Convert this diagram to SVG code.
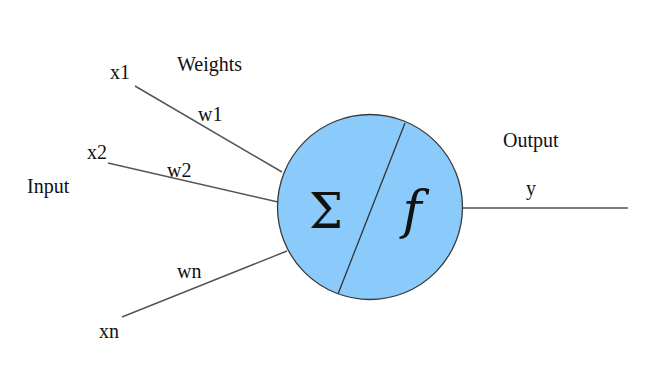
<svg xmlns="http://www.w3.org/2000/svg" width="646" height="392" viewBox="0 0 646 392">
<style>
.t{font-family:"Liberation Serif","Times New Roman",serif;font-size:20px;fill:#111}
.c{stroke:#555;stroke-width:1.5;fill:none}
.sig{font-family:"DejaVu Serif",serif;font-size:48px;fill:#111}
.fn{font-family:"DejaVu Serif",serif;font-size:52px;font-style:italic;fill:#111}
</style>
<rect width="646" height="392" fill="#fff"/>
<g id="connectors">
<line class="c" x1="135" y1="86" x2="282" y2="172"/>
<line class="c" x1="108" y1="163" x2="278" y2="202"/>
<line class="c" x1="122" y1="317" x2="287" y2="251"/>
<line class="c" x1="462" y1="208" x2="628" y2="208"/>
</g>
<g id="neuron">
<circle cx="370" cy="207" r="92.5" fill="#8BCBFC" stroke="#3a3a3a" stroke-width="1.3"/>
<line x1="405" y1="123" x2="338" y2="294" stroke="#333" stroke-width="1.3"/>
<text class="sig" x="326" y="228" text-anchor="middle">Σ</text>
<text class="fn" x="412" y="228" text-anchor="middle">f</text>
</g>
<g id="x1"><text class="t" x="110" y="79">x1</text></g>
<g id="x2"><text class="t" x="87" y="159">x2</text></g>
<g id="xn"><text class="t" x="99" y="338">xn</text></g>
<g id="weights"><text class="t" x="177" y="71">Weights</text></g>
<g id="w1"><text class="t" x="198" y="121">w1</text></g>
<g id="w2"><text class="t" x="167" y="177">w2</text></g>
<g id="wn"><text class="t" x="177" y="278">wn</text></g>
<g id="input"><text class="t" x="27" y="193">Input</text></g>
<g id="output"><text class="t" x="503" y="147">Output</text></g>
<g id="y"><text class="t" x="526" y="195">y</text></g>
</svg>
